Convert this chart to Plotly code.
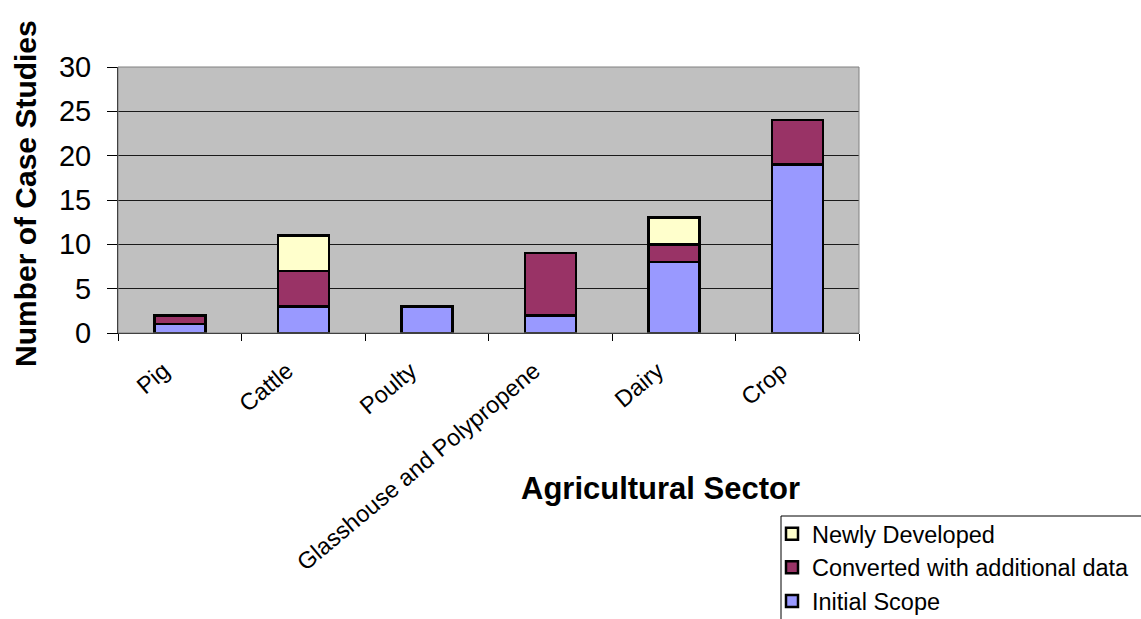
import plotly.graph_objects as go

# Case studies per agricultural sector, split by origin
sectors = ["Pig", "Cattle", "Poulty", "Glasshouse and Polypropene", "Dairy", "Crop"]
initial_scope = [1, 3, 3, 2, 8, 19]
converted_additional = [1, 4, 0, 7, 2, 5]
newly_developed = [0, 4, 0, 0, 3, 0]

y_ticks = [0, 5, 10, 15, 20, 25, 30]

FONT = "Arial, Liberation Sans, sans-serif"

W, H = 1141, 619
L, R, T, B = 118, 282, 67, 286
plot_w = W - L - R
plot_h = H - T - B


def px_x(p):
    return (p - L) / plot_w


def px_y(p):
    return (H - B - p) / plot_h


def nz(values):
    return [v if v else None for v in values]


series = [
    ("Initial Scope", initial_scope, "#9999FF"),
    ("Converted with additional data", converted_additional, "#993366"),
    ("Newly Developed", newly_developed, "#FFFFCC"),
]

fig = go.Figure()
for name, vals, color in series:
    fig.add_trace(go.Bar(
        x=sectors,
        y=nz(vals),
        name=name,
        marker=dict(color=color, line=dict(color="#000000", width=2.5)),
        legendgroup=name,
    ))

fig.update_layout(
    width=W,
    height=H,
    barmode="stack",
    bargap=0.587,
    margin=dict(l=L, r=R, t=T, b=B, autoexpand=False),
    paper_bgcolor="#FFFFFF",
    plot_bgcolor="#C0C0C0",
    font=dict(family=FONT, color="#000000"),
    showlegend=True,
    legend=dict(
        x=px_x(772),
        y=px_y(512),
        xanchor="left",
        yanchor="top",
        traceorder="reversed",
        font=dict(size=23.5, family=FONT, color="#000000"),
        bgcolor="rgba(0,0,0,0)",
        borderwidth=0,
        itemclick=False,
    ),
    xaxis=dict(
        type="category",
        showgrid=False,
        showline=True,
        linecolor="#000000",
        linewidth=1,
        ticks="outside",
        tickson="boundaries",
        ticklen=7,
        tickcolor="#000000",
        tickangle=-40,
        tickfont=dict(size=23.5, family=FONT),
        ticklabelshift=-16,
        ticklabelstandoff=14,
        zeroline=False,
    ),
    yaxis=dict(
        range=[0, 30],
        tickvals=y_ticks,
        showgrid=True,
        gridcolor="#1a1a1a",
        gridwidth=1,
        showline=True,
        linecolor="#000000",
        linewidth=1,
        ticks="outside",
        ticklen=10,
        tickcolor="#000000",
        tickfont=dict(size=29, family=FONT),
        ticklabelstandoff=10,
        zeroline=False,
    ),
    shapes=[
        # plot area frame
        dict(type="rect", xref="paper", yref="paper", x0=0, x1=1, y0=0, y1=1,
             line=dict(color="#808080", width=1), fillcolor="rgba(0,0,0,0)", layer="above"),
        # legend box
        dict(type="rect", xref="paper", yref="paper",
             x0=px_x(781), x1=px_x(1160), y0=px_y(640), y1=px_y(516),
             line=dict(color="#000000", width=1), fillcolor="#FFFFFF", layer="below"),
    ],
    annotations=[
        dict(text="<b>Number of Case Studies</b>", xref="paper", yref="paper",
             x=px_x(25), y=px_y(194), textangle=-90, showarrow=False,
             xanchor="center", yanchor="middle", font=dict(size=30, family=FONT)),
        dict(text="<b>Agricultural Sector</b>", xref="paper", yref="paper",
             x=px_x(660), y=px_y(489), showarrow=False,
             xanchor="center", yanchor="middle", font=dict(size=31, family=FONT)),
    ],
)

fig.write_html("out.html")
